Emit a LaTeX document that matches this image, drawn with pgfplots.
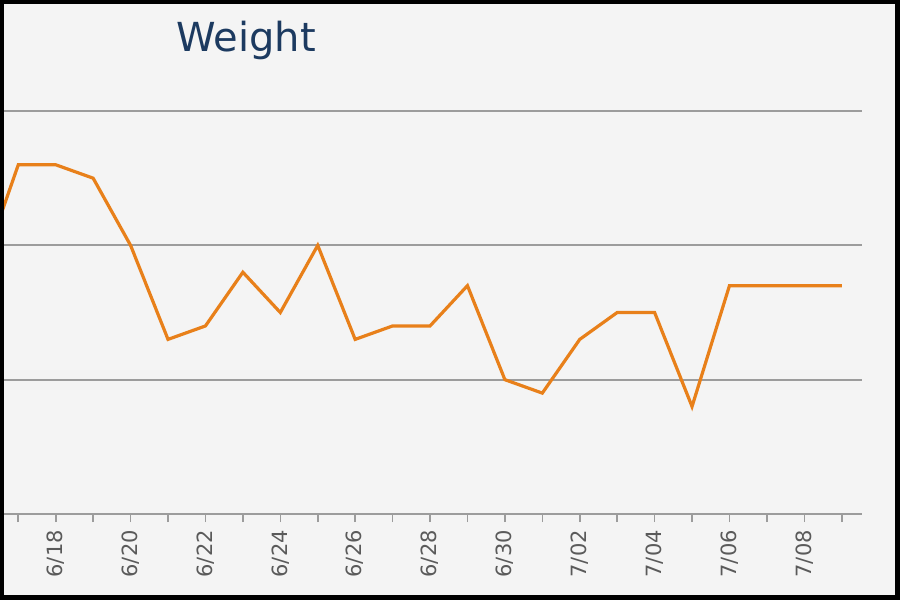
\documentclass[border=0pt]{standalone}
\usepackage{pgfplots}
\pgfplotsset{compat=1.18}
\usepackage{fontspec}
\setmainfont{DejaVu Sans}
\definecolor{bgcol}{HTML}{F4F4F4}
\definecolor{linecol}{HTML}{E8801A}
\definecolor{gridcol}{HTML}{9C9C9C}
\definecolor{titlecol}{HTML}{1C3A60}
\definecolor{tickcol}{HTML}{5A5A5A}
\begin{document}
\begin{tikzpicture}[x=1pt,y=1pt]
\fill[black] (0,0) rectangle (900,600);
\fill[bgcol] (4,5) rectangle (895,596);
\node[anchor=base, text=titlecol, font=\fontsize{40}{48}\selectfont] at (246,548) {Weight};
\begin{axis}[
  at={(4pt,86pt)}, anchor=south west,
  scale only axis,
  width=857.7pt, height=454pt,
  xmin=16.618, xmax=39.533,
  ymin=0, ymax=3.38,
  axis x line=bottom,
  axis y line=left,
  x axis line style={-, draw=gridcol, line width=1.8pt},
  y axis line style={draw=none},
  ytick={1,2,3}, yticklabels={},
  ymajorgrids,
  major grid style={draw=gridcol, line width=1.8pt},
  ytick style={draw=none},
  xtick={17,...,39},
  xticklabels={,6/18,,6/20,,6/22,,6/24,,6/26,,6/28,,6/30,,7/02,,7/04,,7/06,,7/08,},
  tick align=outside,
  major tick length=8pt,
  xtick style={draw=gridcol, line width=1.6pt},
  xticklabel style={rotate=90, anchor=east, text=tickcol, font=\fontsize{21}{25}\selectfont, inner sep=0pt},
  xticklabel shift=8pt,
  clip=true,
]
\addplot[linecol, line width=3.2pt, line join=miter] coordinates {
(16,1.8) (17,2.6) (18,2.6) (19,2.5) (20,2.0) (21,1.3) (22,1.4) (23,1.8)
(24,1.5) (25,2.0) (26,1.3) (27,1.4) (28,1.4) (29,1.7) (30,1.0) (31,0.9)
(32,1.3) (33,1.5) (34,1.5) (35,0.8) (36,1.7) (37,1.7) (38,1.7) (39,1.7)
};
\end{axis}
\pgfresetboundingbox
\path[use as bounding box] (0,0) rectangle (900,600);
\end{tikzpicture}
\end{document}
